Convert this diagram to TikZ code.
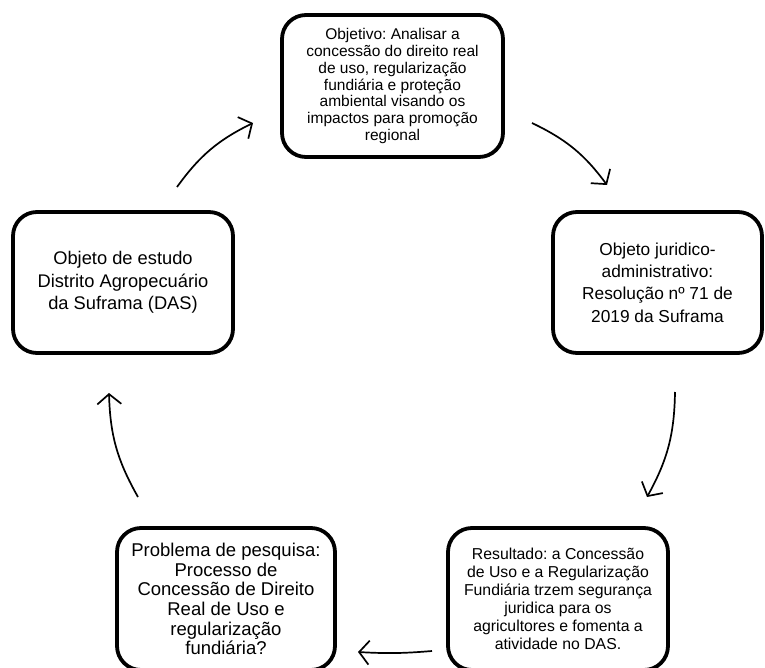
\documentclass[tikz,border=0pt]{standalone}
\usepackage{fontspec}
\setmainfont{Liberation Sans}
\usetikzlibrary{arrows.meta}
\frenchspacing

\begin{document}
\begin{tikzpicture}[x=1pt,y=-1pt,
    etapa/.style={draw,line width=3.8pt,rounded corners=24pt,align=center,inner sep=0pt},
    seta/.style={line width=1.7pt,-{Straight Barb[length=10pt,width=24pt]},bend left=14}]
        \useasboundingbox (0,0) rectangle (765,668);
        % etapas do ciclo
        \node[etapa,minimum width=221pt,minimum height=142pt,
        font=\fontsize{15.5}{16.9}\selectfont] (objetivo) at (392.5,86)
        {Objetivo: Analisar a\\ concessão do direito real\\ de uso, regularização\\
        fundiária e proteção\\ ambiental visando os\\ impactos para promoção\\ regional};
        \node[etapa,minimum width=209pt,minimum height=141pt,
        font=\fontsize{17.3}{22.3}\selectfont] (juridico) at (657.5,282.5)
        {Objeto juridico-\\ administrativo:\\ Resolução nº 71 de\\ 2019 da Suframa};
        \node[etapa,minimum width=220pt,minimum height=142pt,
        font=\fontsize{15.8}{18}\selectfont] (resultado) at (558,599)
        {Resultado: a Concessão\\ de Uso e a Regularização\\ Fundiária trzem segurança\\
        juridica para os\\ agricultores e fomenta a\\ atividade no DAS.};
        \node[etapa,minimum width=218pt,minimum height=142pt,
        font=\fontsize{18.5}{19.6}\selectfont] (problema) at (226,599)
        {Problema de pesquisa:\\ Processo de\\ Concessão de Direito\\ Real de Uso e\\
        regularização\\ fundiária?};
        \node[etapa,minimum width=220pt,minimum height=141pt,
        font=\fontsize{18.3}{22.5}\selectfont] (estudo) at (123,282.5)
        {Objeto de estudo\\ Distrito Agropecuário\\ da Suframa (DAS)};
        % pontas das setas
        \coordinate (s1) at (177,187); \coordinate (t1) at (253,123);
        \coordinate (s2) at (532,123); \coordinate (t2) at (607,185);
        \coordinate (s3) at (675,392); \coordinate (t3) at (647,497);
        \coordinate (s4) at (432,651); \coordinate (t4) at (358,652);
        \coordinate (s5) at (138,497); \coordinate (t5) at (109,393);
        \draw[seta] (s1) to (t1);
        \draw[seta] (s2) to (t2);
        \draw[seta] (s3) to (t3);
        \draw[seta,bend left=4] (s4) to (t4);
        \draw[seta] (s5) to (t5);
\end{tikzpicture}
\end{document}
